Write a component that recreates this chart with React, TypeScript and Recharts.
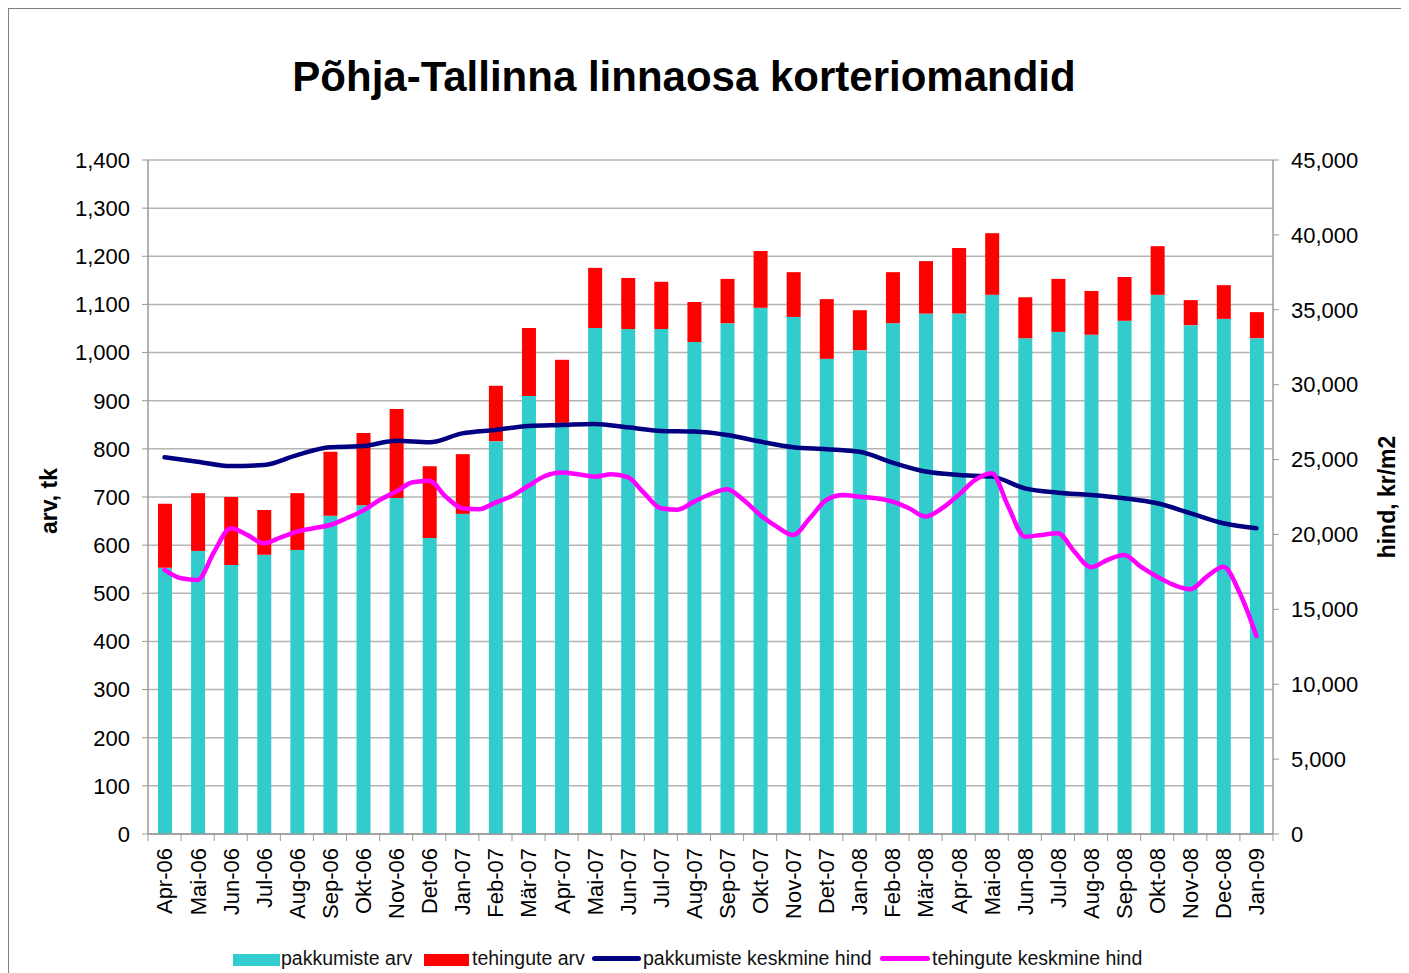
import React from "react";
import {
  ComposedChart,
  Bar,
  Line,
  XAxis,
  YAxis,
  CartesianGrid,
} from "recharts";

// months on the x axis (spelling as on the original)
const months = [
  "Apr-06", "Mai-06", "Jun-06", "Jul-06", "Aug-06", "Sep-06", "Okt-06", "Nov-06", "Det-06",
  "Jan-07", "Feb-07", "Mär-07", "Apr-07", "Mai-07", "Jun-07", "Jul-07", "Aug-07", "Sep-07",
  "Okt-07", "Nov-07", "Det-07", "Jan-08", "Feb-08", "Mär-08", "Apr-08", "Mai-08", "Jun-08",
  "Jul-08", "Aug-08", "Sep-08", "Okt-08", "Nov-08", "Dec-08", "Jan-09",
];

// bottom (cyan) part of each bar
const pakkumisteArv = [
  553, 588, 559, 580, 590, 661, 683, 698, 615, 665, 816, 910, 854, 1051, 1049, 1049, 1022,
  1061, 1093, 1074, 987, 1005, 1061, 1081, 1081, 1120, 1030, 1043, 1037, 1066, 1120, 1057,
  1070, 1030,
];

// stacked (red) part on top
const tehinguteArv = [
  133, 120, 141, 93, 118, 133, 150, 185, 149, 124, 115, 141, 131, 125, 106, 98, 83, 92, 118,
  93, 124, 83, 106, 109, 136, 128, 85, 110, 91, 91, 101, 52, 70, 54,
];

// monthly average asking price, kr/m2
const pakkumisteHind = [
  25150, 24860, 24570, 24640, 25300, 25820, 25900, 26260, 26150, 26750, 26980, 27240, 27310,
  27380, 27150, 26910, 26870, 26640, 26200, 25820, 25690, 25520, 24800, 24200, 23970, 23860,
  23080, 22790, 22640, 22420, 22080, 21420, 20750, 20410,
];

// average deal price, read every half month
const tehinguteHind = [
  17630, 17070, 16960, 18850, 20410, 19970, 19410, 19790, 20190, 20410, 20630, 21080, 21590,
  22300, 22860, 23480, 23590, 22520, 21750, 21680, 22120, 22570, 23250, 23900, 24130, 24020,
  23860, 24020, 23820, 22750, 21750, 21650, 22190, 22700, 23020, 22300, 21300, 20520, 19970,
  21080, 22300, 22640, 22520, 22420, 22190, 21750, 21190, 21750, 22640, 23640, 24090, 21860,
  19850, 19970, 20080, 18850, 17810, 18300, 18630, 17850, 17180, 16630, 16340, 17180, 17850,
  16070, 13220,
];

const leftTicks = [0, 100, 200, 300, 400, 500, 600, 700, 800, 900, 1000, 1100, 1200, 1300, 1400];
const rightTicks = [0, 5000, 10000, 15000, 20000, 25000, 30000, 35000, 40000, 45000];

const barData = months.map((m, i) => ({
  month: m,
  pak: pakkumisteArv[i],
  teh: tehinguteArv[i],
}));
const navyData = pakkumisteHind.map((v, i) => ({ x: i + 0.5, v }));
const pinkData = tehinguteHind.map((v, i) => ({ x: i / 2 + 0.5, v }));

const FONT = '"Liberation Sans", Arial, sans-serif';
const W = 1401;
const H = 965;
const PLOT_W = 1125;
const BAND = PLOT_W / months.length;
const AXIS = "#999999";

const fmt = (v: number) => v.toLocaleString("en-US");

function MonthTick(props: any) {
  const { x, y, payload, index } = props;
  return (
    <g>
      <line x1={x - BAND / 2} x2={x - BAND / 2} y1={y} y2={y + 7} stroke={AXIS} />
      {index === months.length - 1 && (
        <line x1={x + BAND / 2} x2={x + BAND / 2} y1={y} y2={y + 7} stroke={AXIS} />
      )}
      <text
        transform={`translate(${x},${y + 14}) rotate(-90)`}
        textAnchor="end"
        dy="0.36em"
        fontSize={22}
        fill="#000"
        fontFamily={FONT}
      >
        {payload.value}
      </text>
    </g>
  );
}

const legendItems = [
  { label: "pakkumiste arv", color: "#33CCCC", kind: "box", x: 233, w: 47, tx: 281 },
  { label: "tehingute arv", color: "#FF0000", kind: "box", x: 424, w: 45, tx: 472 },
  { label: "pakkumiste keskmine hind", color: "#000080", kind: "line", x: 592, w: 49, tx: 643 },
  { label: "tehingute keskmine hind", color: "#FF00FF", kind: "line", x: 880, w: 50, tx: 932 },
];

export default function App() {
  return (
    <div style={{ position: "relative", width: W, height: H, fontFamily: FONT, background: "#fff" }}>
      <div
        style={{
          position: "absolute",
          left: 0,
          top: 0,
          width: W,
          height: H,
          borderTop: "1px solid #808080",
          borderLeft: "1px solid #808080",
          boxSizing: "border-box",
        }}
      />
      <div
        style={{
          position: "absolute",
          left: 0,
          width: 1352,
          top: 48,
          textAlign: "center",
          fontSize: 42,
          lineHeight: "42px",
          fontWeight: "bold",
          color: "#000",
          whiteSpace: "nowrap",
        }}
      >
        Põhja-Tallinna linnaosa korteriomandid
      </div>

      <ComposedChart
        width={W}
        height={H}
        data={barData}
        margin={{ top: 152, left: 80, right: 56, bottom: 59 }}
        style={{ position: "absolute", left: 0, top: 0, fontFamily: FONT }}
      >
        <CartesianGrid
          vertical={false}
          xAxisId="cat"
          yAxisId="left"
          stroke="#b4b4b4"
          strokeWidth={1.5}
        />
        <XAxis
          xAxisId="cat"
          dataKey="month"
          height={80}
          interval={0}
          tickLine={false}
          tickSize={0}
          tickMargin={0}
          axisLine={{ stroke: AXIS, strokeWidth: 1.5 }}
          tick={<MonthTick />}
        />
        <XAxis xAxisId="num" type="number" dataKey="x" domain={[0, months.length]} hide />
        <YAxis
          yAxisId="left"
          width={60}
          domain={[0, 1400]}
          ticks={leftTicks}
          interval={0}
          tickFormatter={fmt}
          tickSize={6}
          tickMargin={12}
          axisLine={{ stroke: AXIS, strokeWidth: 1.5 }}
          tickLine={{ stroke: AXIS }}
          tick={{ fontSize: 22, fill: "#000" }}
        />
        <YAxis
          yAxisId="right"
          orientation="right"
          width={80}
          domain={[0, 45000]}
          ticks={rightTicks}
          interval={0}
          tickFormatter={fmt}
          tickSize={6}
          tickMargin={12}
          axisLine={{ stroke: AXIS, strokeWidth: 1.5 }}
          tickLine={{ stroke: AXIS }}
          tick={{ fontSize: 22, fill: "#000", textAnchor: "start" }}
        />
        <Bar
          xAxisId="cat"
          yAxisId="left"
          dataKey="pak"
          stackId="a"
          fill="#33CCCC"
          barSize={14}
          isAnimationActive={false}
        />
        <Bar
          xAxisId="cat"
          yAxisId="left"
          dataKey="teh"
          stackId="a"
          fill="#FF0000"
          barSize={14}
          isAnimationActive={false}
        />
        <Line
          xAxisId="num"
          yAxisId="right"
          data={navyData}
          dataKey="v"
          type="monotone"
          stroke="#000080"
          strokeWidth={4.5}
          strokeLinecap="round"
          dot={false}
          isAnimationActive={false}
        />
        <Line
          xAxisId="num"
          yAxisId="right"
          data={pinkData}
          dataKey="v"
          type="monotone"
          stroke="#FF00FF"
          strokeWidth={4.5}
          strokeLinecap="round"
          dot={false}
          isAnimationActive={false}
        />
      </ComposedChart>

      {/* axis titles */}
      <div
        style={{
          position: "absolute",
          left: 41,
          top: 493,
          transform: "translate(-50%, -50%) rotate(-90deg)",
          fontSize: 23,
          fontWeight: "bold",
          whiteSpace: "nowrap",
        }}
      >
        arv, tk
      </div>
      <div
        style={{
          position: "absolute",
          left: 1379,
          top: 489,
          transform: "translate(-50%, -50%) rotate(-90deg)",
          fontSize: 23,
          fontWeight: "bold",
          whiteSpace: "nowrap",
        }}
      >
        hind, kr/m2
      </div>

      {/* legend */}
      {legendItems.map((it) => (
        <React.Fragment key={it.label}>
          <div
            style={{
              position: "absolute",
              left: it.x - 8,
              top: it.kind === "box" ? 946 : 948,
              width: it.w,
              height: it.kind === "box" ? 12 : 5,
              borderRadius: it.kind === "box" ? 0 : 3,
              background: it.color,
            }}
          />
          <div
            style={{
              position: "absolute",
              left: it.tx - 8,
              top: 939,
              fontSize: 19.5,
              lineHeight: "22px",
              color: "#111",
              whiteSpace: "nowrap",
            }}
          >
            {it.label}
          </div>
        </React.Fragment>
      ))}
    </div>
  );
}
